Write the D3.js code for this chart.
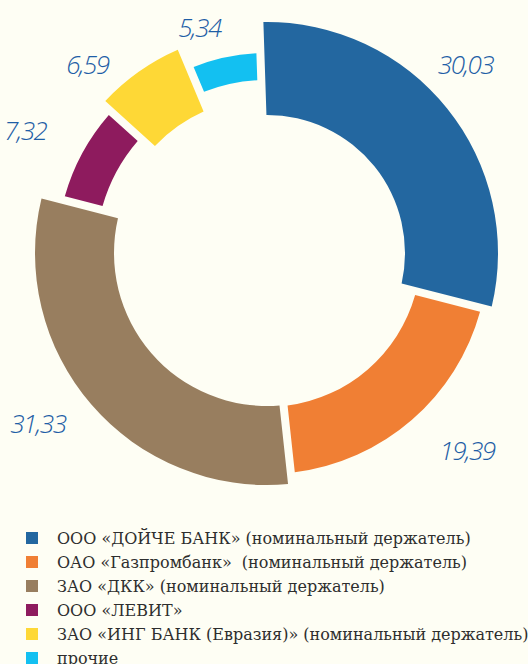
<!DOCTYPE html>
<html>
<head>
<meta charset="utf-8">
<script src="https://cdn.jsdelivr.net/npm/d3@7"></script>
<style>
  html, body { margin: 0; padding: 0; background: #fefef4; }
  .chart { width: 528px; height: 664px; }
  .value-label { font-family: "Open Sans", sans-serif; font-style: italic; font-weight: 300; font-size: 26px; letter-spacing: -1.5px; fill: #1f5ea6; }
  .legend-text { font-family: "DejaVu Serif", serif; font-size: 16px; fill: #2e2e2e; white-space: pre; }
</style>
</head>
<body>
<div class="chart"></div>
<script>
const categories = [
    "ООО «ДОЙЧЕ БАНК» (номинальный держатель)",
    "ОАО «Газпромбанк»  (номинальный держатель)",
    "ЗАО «ДКК» (номинальный держатель)",
    "ООО «ЛЕВИТ»",
    "ЗАО «ИНГ БАНК (Евразия)» (номинальный держатель)",
    "прочие"
];
const values = [30.03, 19.39, 31.33, 7.32, 6.59, 5.34];
const colors = ["#2367a0", "#f07f34", "#987e5f", "#8e1b5e", "#fed836", "#13c0f1"];

// ring thickness differs per slice in the original
const innerR = [138, 154, 153, 171, 155, 173];
const outerR = [231, 221, 232, 210, 222, 200];
// label nudges from the default label position
const labelNudge = [[-16, -16], [20, -10], [-21, -9], [0, 9], [-21, 37], [-9, 44]];

const widthPage = 528, heightPage = 664;
const cx = 267, cy = 253;
const labelR = 275;

const ru = d3.formatLocale({ decimal: ",", thousands: " ", grouping: [3], currency: ["", ""] });
const fmt = ru.format(".2f");

const svg = d3.select(".chart")
    .append("svg")
    .attr("width", widthPage)
    .attr("height", heightPage);

const g = svg.append("g")
    .attr("transform", "translate(" + cx + "," + cy + ")");

const rot = -0.033;
const pie = d3.pie()
    .sort(null)
    .startAngle(rot)
    .endAngle(2 * Math.PI + rot)
    .padAngle(0.04);

const arcs = pie(values);

const arc = d3.arc()
    .innerRadius(d => innerR[d.index])
    .outerRadius(d => outerR[d.index])
    .padRadius(200);

g.selectAll("path.slice")
    .data(arcs)
    .enter()
    .append("path")
    .attr("class", "slice")
    .attr("d", arc)
    .attr("fill", (d, i) => colors[i]);

// value labels
const labelArc = d3.arc().innerRadius(labelR).outerRadius(labelR);

g.selectAll("text.value-label")
    .data(arcs)
    .enter()
    .append("text")
    .attr("class", "value-label")
    .attr("x", (d, i) => labelArc.centroid(d)[0] + labelNudge[i][0])
    .attr("y", (d, i) => labelArc.centroid(d)[1] + labelNudge[i][1])
    .attr("dy", "0.35em")
    .attr("text-anchor", "middle")
    .text(d => fmt(d.data));

// legend
const legendY = d3.scaleBand()
    .domain(categories)
    .range([526, 526 + 24 * categories.length]);

const legend = svg.selectAll("g.legend")
    .data(categories)
    .enter()
    .append("g")
    .attr("class", "legend")
    .attr("transform", d => "translate(26," + legendY(d) + ")");

legend.append("rect")
    .attr("x", 0)
    .attr("y", 6)
    .attr("width", 12)
    .attr("height", 12)
    .attr("fill", (d, i) => colors[i]);

legend.append("text")
    .attr("class", "legend-text")
    .attr("x", 31)
    .attr("y", 18)
    .attr("xml:space", "preserve")
    .text(d => d);
</script>
</body>
</html>
